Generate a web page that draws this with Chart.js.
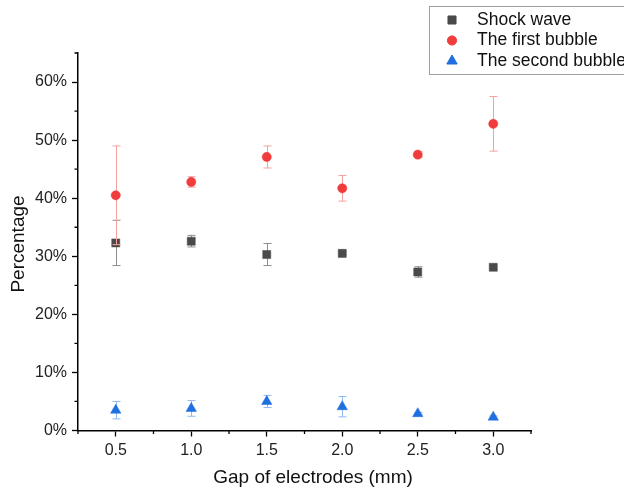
<!DOCTYPE html>
<html>
<head>
<meta charset="utf-8">
<title>Gap of electrodes</title>
<script src="https://cdn.jsdelivr.net/npm/chart.js"></script>
<style>
  html, body { margin: 0; padding: 0; background: #fff; }
  #wrap { width: 624px; height: 493px; position: relative; }
</style>
</head>
<body>
<div id="wrap"><canvas id="grafico"></canvas></div>
<script>
// datos: porcentaje de energía por separación de electrodos
const gaps = [0.5, 1.0, 1.5, 2.0, 2.5, 3.0];

const shockWave    = [32.3, 32.6, 30.3, 30.5, 27.3, 28.1];
const shockWaveErr = [3.9, 1.0, 1.9, 0.3, 0.9, 0.3];

const firstBubble    = [40.5, 42.8, 47.1, 41.7, 47.5, 52.8];
const firstBubbleErr = [8.5, 0.9, 1.9, 2.2, 0.5, 4.7];

const secondBubble    = [3.5, 3.8, 5.0, 4.1, 2.9, 2.3];
const secondBubbleErr = [1.5, 1.35, 1.05, 1.75, 0.2, 0.2];

const xTicks = [0.5, 1.0, 1.5, 2.0, 2.5, 3.0];
const yTicks = [0, 10, 20, 30, 40, 50, 60];

const FUENTE = "'Liberation Sans', Arial, sans-serif";

function puntos(vals) {
  return vals.map((v, i) => ({ x: gaps[i], y: v }));
}

// barras de error, dibujadas antes de cada serie
const barrasError = {
  id: 'barrasError',
  beforeDatasetDraw(chart, args) {
    const ds = chart.data.datasets[args.index];
    if (!ds.err) return;
    const sx = chart.scales.x, sy = chart.scales.y;
    const ctx = chart.ctx;
    ctx.save();
    ctx.strokeStyle = ds.errColor;
    ctx.lineWidth = 1;
    ds.data.forEach((p, i) => {
      const e = ds.err[i];
      const px = Math.round(sx.getPixelForValue(p.x)) + 0.5;
      const top = sy.getPixelForValue(p.y + e);
      const bot = sy.getPixelForValue(p.y - e);
      ctx.beginPath();
      ctx.moveTo(px, top); ctx.lineTo(px, bot);
      ctx.moveTo(px - 4, top); ctx.lineTo(px + 4, top);
      ctx.moveTo(px - 4, bot); ctx.lineTo(px + 4, bot);
      ctx.stroke();
    });
    ctx.restore();
  }
};

// ticks menores, leyenda con marco y títulos de ejes
const extras = {
  id: 'extras',
  afterDraw(chart) {
    const ctx = chart.ctx;
    const sx = chart.scales.x, sy = chart.scales.y;
    const area = chart.chartArea;
    ctx.save();
    ctx.strokeStyle = '#000';
    ctx.lineWidth = 1.3;
    ctx.beginPath();
    for (let v = 5; v <= 65; v += 10) {
      const py = sy.getPixelForValue(v);
      ctx.moveTo(area.left, py); ctx.lineTo(area.left - 3.5, py);
    }
    for (let v = 0.25; v <= 3.26; v += 0.5) {
      const px = sx.getPixelForValue(v);
      ctx.moveTo(px, area.bottom); ctx.lineTo(px, area.bottom + 3.5);
    }
    ctx.stroke();

    // títulos
    ctx.fillStyle = '#111';
    ctx.font = '19px ' + FUENTE;
    ctx.textAlign = 'center';
    ctx.textBaseline = 'middle';
    ctx.fillText('Gap of electrodes (mm)', 313, 478);
    ctx.save();
    ctx.translate(19, 244);
    ctx.rotate(-Math.PI / 2);
    ctx.fillText('Percentage', 0, 0);
    ctx.restore();

    // leyenda
    ctx.strokeStyle = '#a0a0a0';
    ctx.lineWidth = 1;
    ctx.strokeRect(429.5, 6.5, 220, 68);
    ctx.font = '17.5px ' + FUENTE;
    ctx.textAlign = 'left';
    const filas = [20, 40.5, 61];
    chart.data.datasets.forEach((ds, i) => {
      ctx.fillStyle = ds.pointBackgroundColor;
      ctx.strokeStyle = ds.pointBackgroundColor;
      Chart.helpers.drawPoint(ctx, {
        pointStyle: ds.pointStyle, radius: ds.pointRadius, borderWidth: 0.5, rotation: 0
      }, 452, filas[i]);
      ctx.fillStyle = '#111';
      ctx.fillText(ds.label, 477, filas[i]);
    });
    ctx.restore();
  }
};

new Chart(document.getElementById('grafico'), {
  type: 'scatter',
  data: {
    datasets: [
      {
        label: 'Shock wave',
        data: puntos(shockWave),
        err: shockWaveErr,
        errColor: '#8e8e8e',
        pointStyle: 'rect',
        pointRadius: 5.7,
        pointBackgroundColor: '#4a4a4a',
        pointBorderColor: '#4a4a4a',
        pointBorderWidth: 0.5,
        order: 3
      },
      {
        label: 'The first bubble',
        data: puntos(firstBubble),
        err: firstBubbleErr,
        errColor: '#f4a0a0',
        pointStyle: 'circle',
        pointRadius: 4.6,
        pointBackgroundColor: '#f03c3c',
        pointBorderColor: '#f03c3c',
        pointBorderWidth: 0.5,
        order: 2
      },
      {
        label: 'The second bubble',
        data: puntos(secondBubble),
        err: secondBubbleErr,
        errColor: '#8fb9f2',
        pointStyle: 'triangle',
        pointRadius: 6,
        pointBackgroundColor: '#1f6fe0',
        pointBorderColor: '#1f6fe0',
        pointBorderWidth: 0.5,
        order: 1
      }
    ]
  },
  options: {
    responsive: true,
    maintainAspectRatio: false,
    animation: false,
    layout: { padding: { left: 0, top: 53, right: 93, bottom: 0 } },
    plugins: {
      legend: { display: false },
      tooltip: { enabled: false }
    },
    scales: {
      x: {
        type: 'linear',
        min: 0.25,
        max: 3.25,
        afterFit: s => { s.height = 62.5; },
        afterBuildTicks: s => { s.ticks = xTicks.map(v => ({ value: v })); },
        border: { display: true, color: '#000', width: 1.5 },
        grid: { drawOnChartArea: false, drawTicks: true, tickLength: 6, tickColor: '#000', tickWidth: 1.3 },
        ticks: {
          autoSkip: false,
          maxRotation: 0,
          padding: 4,
          color: '#222',
          font: { family: FUENTE, size: 16 },
          callback: v => v.toFixed(1)
        }
      },
      y: {
        min: 0,
        max: 65,
        afterFit: s => { s.width = 78; },
        afterBuildTicks: s => { s.ticks = yTicks.map(v => ({ value: v })); },
        border: { display: true, color: '#000', width: 1.5 },
        grid: { drawOnChartArea: false, drawTicks: true, tickLength: 6, tickColor: '#000', tickWidth: 1.3 },
        ticks: {
          autoSkip: false,
          padding: 5,
          color: '#222',
          font: { family: FUENTE, size: 16 },
          callback: v => v + '%'
        }
      }
    }
  },
  plugins: [barrasError, extras]
});
</script>
</body>
</html>
